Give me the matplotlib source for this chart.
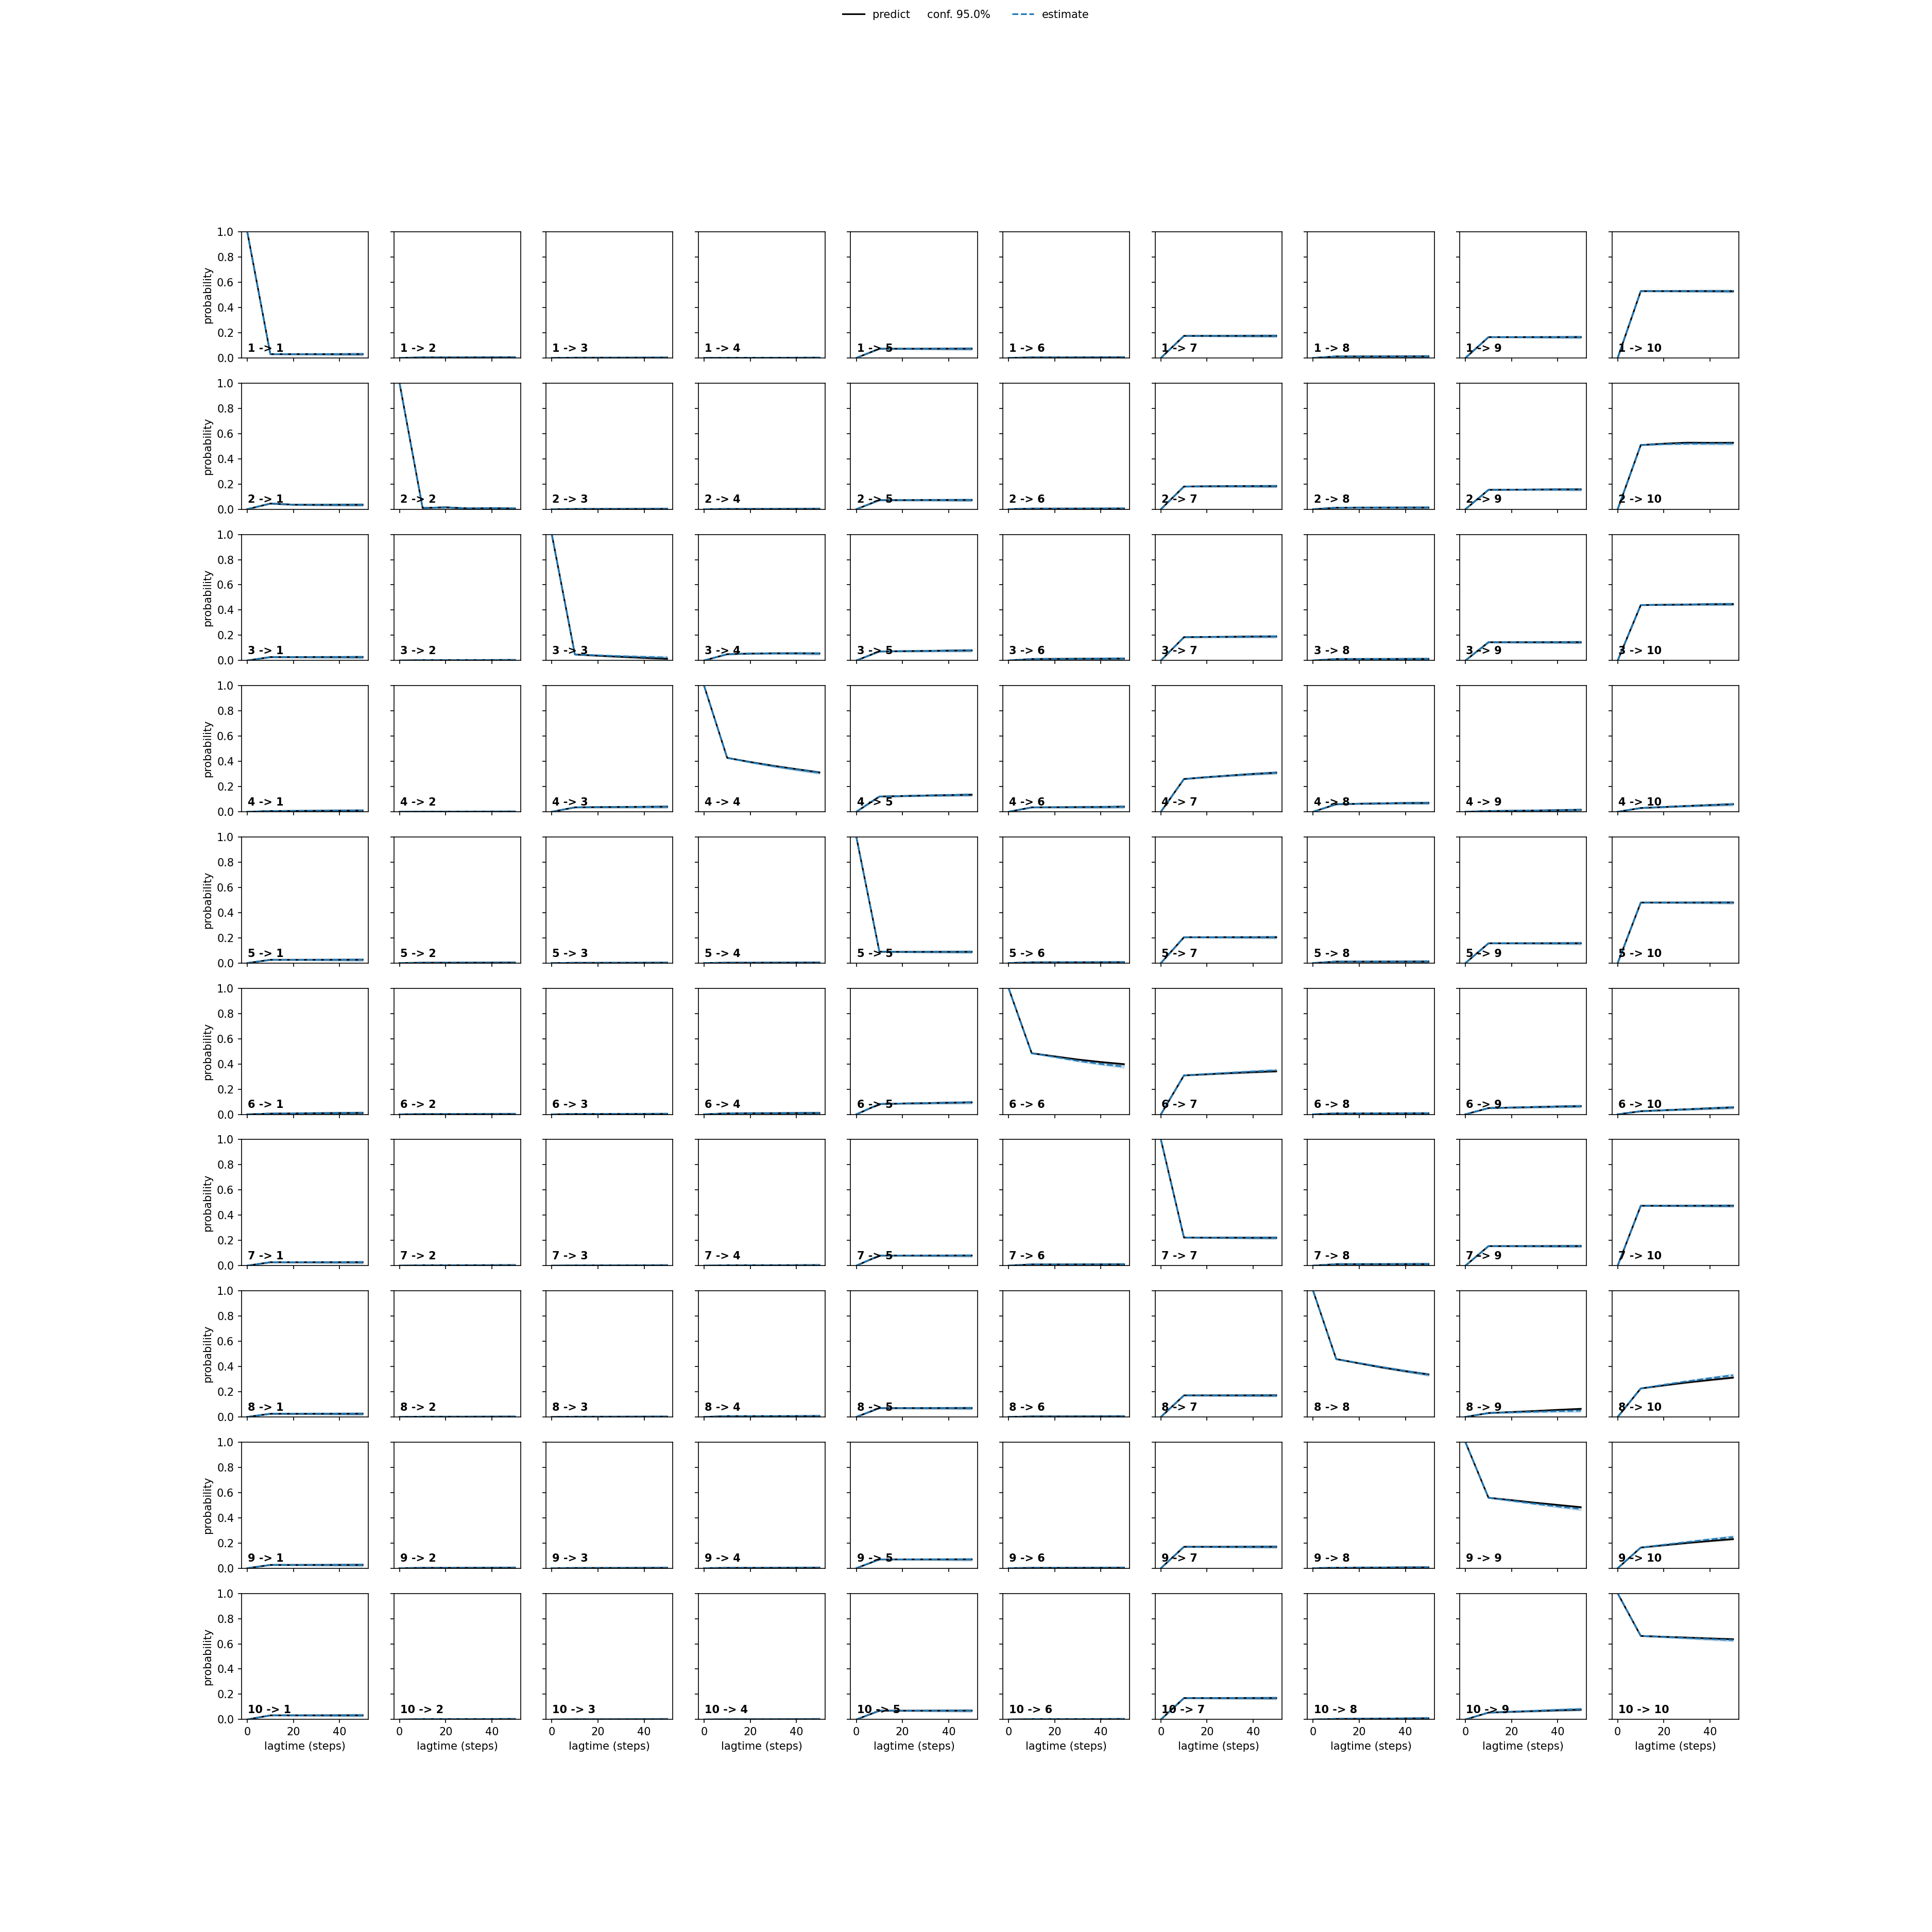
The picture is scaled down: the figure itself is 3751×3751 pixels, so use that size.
import matplotlib
matplotlib.use("Agg")
import matplotlib.pyplot as plt
import numpy as np

# lag times (steps)
lagtimes = [0, 10, 20, 30, 40, 50]

# predictions: pred_k[j] = P(k -> j+1) at each lag time
pred_1 = [
    [1, 0.030, 0.030, 0.030, 0.030, 0.030],
    [0, 0.004, 0.004, 0.004, 0.004, 0.004],
    [0, 0.002, 0.002, 0.002, 0.002, 0.002],
    [0, 0.001, 0.001, 0.001, 0.001, 0.001],
    [0, 0.073, 0.073, 0.073, 0.073, 0.073],
    [0, 0.004, 0.004, 0.004, 0.004, 0.004],
    [0, 0.175, 0.175, 0.175, 0.175, 0.175],
    [0, 0.012, 0.012, 0.012, 0.012, 0.012],
    [0, 0.165, 0.165, 0.165, 0.165, 0.165],
    [0, 0.530, 0.530, 0.530, 0.530, 0.529],
]
pred_2 = [
    [0, 0.045, 0.036, 0.035, 0.035, 0.035],
    [1, 0.010, 0.015, 0.006, 0.008, 0.005],
    [0, 0.002, 0.002, 0.002, 0.002, 0.002],
    [0, 0.002, 0.002, 0.002, 0.002, 0.002],
    [0, 0.072, 0.072, 0.073, 0.073, 0.073],
    [0, 0.005, 0.005, 0.005, 0.005, 0.005],
    [0, 0.180, 0.182, 0.183, 0.183, 0.183],
    [0, 0.012, 0.013, 0.013, 0.013, 0.013],
    [0, 0.154, 0.155, 0.156, 0.157, 0.157],
    [0, 0.509, 0.520, 0.528, 0.527, 0.527],
]
pred_3 = [
    [0, 0.027, 0.027, 0.027, 0.027, 0.027],
    [0, 0.003, 0.003, 0.003, 0.003, 0.003],
    [1, 0.048, 0.038, 0.029, 0.021, 0.014],
    [0, 0.050, 0.055, 0.057, 0.057, 0.056],
    [0, 0.072, 0.074, 0.076, 0.078, 0.080],
    [0, 0.012, 0.013, 0.014, 0.014, 0.015],
    [0, 0.185, 0.187, 0.188, 0.190, 0.191],
    [0, 0.012, 0.012, 0.012, 0.012, 0.012],
    [0, 0.145, 0.145, 0.145, 0.145, 0.145],
    [0, 0.440, 0.442, 0.444, 0.446, 0.447],
]
pred_4 = [
    [0, 0.006, 0.007, 0.008, 0.009, 0.010],
    [0, 0.001, 0.001, 0.001, 0.001, 0.001],
    [0, 0.035, 0.037, 0.038, 0.039, 0.040],
    [1, 0.428, 0.395, 0.365, 0.338, 0.312],
    [0, 0.121, 0.125, 0.129, 0.132, 0.135],
    [0, 0.035, 0.036, 0.037, 0.038, 0.040],
    [0, 0.260, 0.275, 0.288, 0.300, 0.310],
    [0, 0.060, 0.064, 0.067, 0.069, 0.070],
    [0, 0.006, 0.008, 0.010, 0.012, 0.015],
    [0, 0.030, 0.038, 0.046, 0.053, 0.060],
]
pred_5 = [
    [0, 0.026, 0.026, 0.026, 0.026, 0.026],
    [0, 0.003, 0.003, 0.003, 0.003, 0.003],
    [0, 0.002, 0.002, 0.002, 0.002, 0.002],
    [0, 0.003, 0.003, 0.003, 0.003, 0.003],
    [1, 0.090, 0.089, 0.089, 0.089, 0.089],
    [0, 0.006, 0.006, 0.006, 0.006, 0.006],
    [0, 0.205, 0.205, 0.205, 0.205, 0.205],
    [0, 0.012, 0.012, 0.012, 0.012, 0.012],
    [0, 0.157, 0.157, 0.157, 0.157, 0.157],
    [0, 0.480, 0.480, 0.480, 0.480, 0.480],
]
pred_6 = [
    [0, 0.006, 0.008, 0.009, 0.010, 0.011],
    [0, 0.002, 0.002, 0.002, 0.002, 0.002],
    [0, 0.003, 0.003, 0.003, 0.003, 0.003],
    [0, 0.008, 0.009, 0.009, 0.010, 0.010],
    [0, 0.082, 0.086, 0.089, 0.092, 0.095],
    [1, 0.485, 0.460, 0.435, 0.415, 0.398],
    [0, 0.309, 0.318, 0.327, 0.335, 0.342],
    [0, 0.008, 0.008, 0.008, 0.008, 0.008],
    [0, 0.050, 0.054, 0.058, 0.062, 0.065],
    [0, 0.025, 0.033, 0.040, 0.048, 0.055],
]
pred_7 = [
    [0, 0.027, 0.027, 0.027, 0.027, 0.027],
    [0, 0.003, 0.003, 0.003, 0.003, 0.003],
    [0, 0.002, 0.002, 0.002, 0.002, 0.002],
    [0, 0.003, 0.003, 0.003, 0.003, 0.003],
    [0, 0.080, 0.080, 0.080, 0.080, 0.080],
    [0, 0.010, 0.010, 0.010, 0.010, 0.010],
    [1, 0.223, 0.222, 0.222, 0.221, 0.221],
    [0, 0.012, 0.012, 0.012, 0.012, 0.012],
    [0, 0.155, 0.155, 0.155, 0.155, 0.155],
    [0, 0.475, 0.475, 0.475, 0.475, 0.475],
]
pred_8 = [
    [0, 0.025, 0.025, 0.025, 0.025, 0.025],
    [0, 0.002, 0.002, 0.002, 0.002, 0.002],
    [0, 0.002, 0.002, 0.002, 0.002, 0.002],
    [0, 0.006, 0.006, 0.006, 0.006, 0.006],
    [0, 0.070, 0.070, 0.070, 0.070, 0.070],
    [0, 0.004, 0.004, 0.004, 0.004, 0.004],
    [0, 0.171, 0.171, 0.171, 0.171, 0.171],
    [1, 0.459, 0.425, 0.392, 0.363, 0.337],
    [0, 0.031, 0.039, 0.047, 0.056, 0.064],
    [0, 0.226, 0.250, 0.273, 0.293, 0.312],
]
pred_9 = [
    [0, 0.026, 0.026, 0.026, 0.026, 0.026],
    [0, 0.003, 0.003, 0.003, 0.003, 0.003],
    [0, 0.002, 0.002, 0.002, 0.002, 0.002],
    [0, 0.003, 0.003, 0.003, 0.003, 0.003],
    [0, 0.070, 0.070, 0.070, 0.070, 0.070],
    [0, 0.003, 0.003, 0.003, 0.003, 0.003],
    [0, 0.170, 0.170, 0.170, 0.170, 0.170],
    [0, 0.004, 0.005, 0.005, 0.006, 0.006],
    [1, 0.559, 0.540, 0.520, 0.502, 0.484],
    [0, 0.164, 0.182, 0.200, 0.216, 0.231],
]
pred_10 = [
    [0, 0.033, 0.033, 0.033, 0.033, 0.033],
    [0, 0.003, 0.003, 0.003, 0.003, 0.003],
    [0, 0.002, 0.002, 0.002, 0.002, 0.002],
    [0, 0.002, 0.002, 0.002, 0.002, 0.002],
    [0, 0.070, 0.070, 0.070, 0.070, 0.070],
    [0, 0.003, 0.003, 0.003, 0.003, 0.003],
    [0, 0.170, 0.170, 0.170, 0.170, 0.170],
    [0, 0.005, 0.006, 0.007, 0.008, 0.009],
    [0, 0.055, 0.061, 0.067, 0.073, 0.078],
    [1, 0.663, 0.656, 0.650, 0.643, 0.637],
]

# estimates: identical to predictions except for the panels listed here
est_changes = {
    (2, 10): [0, 0.509, 0.516, 0.520, 0.521, 0.521],
    (3, 3): [1, 0.048, 0.041, 0.034, 0.028, 0.023],
    (4, 4): [1, 0.428, 0.393, 0.362, 0.335, 0.310],
    (6, 6): [1, 0.485, 0.455, 0.425, 0.400, 0.379],
    (6, 7): [0, 0.309, 0.320, 0.330, 0.340, 0.349],
    (8, 8): [1, 0.459, 0.427, 0.395, 0.365, 0.335],
    (8, 9): [0, 0.031, 0.036, 0.041, 0.046, 0.050],
    (8, 10): [0, 0.226, 0.255, 0.282, 0.307, 0.330],
    (9, 9): [1, 0.559, 0.535, 0.512, 0.490, 0.470],
    (9, 10): [0, 0.164, 0.186, 0.207, 0.228, 0.247],
    (10, 9): [0, 0.055, 0.062, 0.069, 0.076, 0.082],
    (10, 10): [1, 0.663, 0.655, 0.646, 0.638, 0.630],
}

# half-width of the 95% confidence bands at each lag time
pred_conf_halfwidth = [0, 0.002, 0.003, 0.004, 0.005, 0.006]
est_conf_halfwidth = [0, 0.003, 0.005, 0.007, 0.009, 0.011]

predictions = [pred_1, pred_2, pred_3, pred_4, pred_5,
               pred_6, pred_7, pred_8, pred_9, pred_10]
n = len(predictions)
conf = 0.95
est_color = "C0"

fig, axes = plt.subplots(n, n, figsize=(3751 / 150, 3751 / 150), dpi=150,
                         sharex="all", sharey=True, squeeze=False)
lag = np.array(lagtimes, dtype=float)
ph = np.array(pred_conf_halfwidth)
eh = np.array(est_conf_halfwidth)
for i in range(n):
    for j in range(n):
        ax = axes[i, j]
        p = np.array(predictions[i][j], dtype=float)
        e = np.array(est_changes.get((i + 1, j + 1), predictions[i][j]), dtype=float)
        l_pred, = ax.plot(lag, p, color="k")
        ax.fill_between(lag, p - ph, p + ph, color="k", alpha=0.2)
        l_est, = ax.plot(lag, e, color=est_color, linestyle="dashed")
        ax.fill_between(lag, e - eh, e + eh, color=est_color, alpha=0.2)
        ax.text(0.05, 0.05, str(i + 1) + " -> " + str(j + 1),
                transform=ax.transAxes, weight="bold")
        if j == 0:
            ax.set_ylabel("probability")
        if i == n - 1:
            ax.set_xlabel("lagtime (steps)")
        ax.set_ylim(0, 1)

fig.legend(handles=(l_pred, l_est),
           labels=("predict     conf. {:3.1f}%".format(100.0 * conf), "estimate"),
           loc="upper center", ncol=2, frameon=False)
fig.savefig("out.png", dpi=150)
